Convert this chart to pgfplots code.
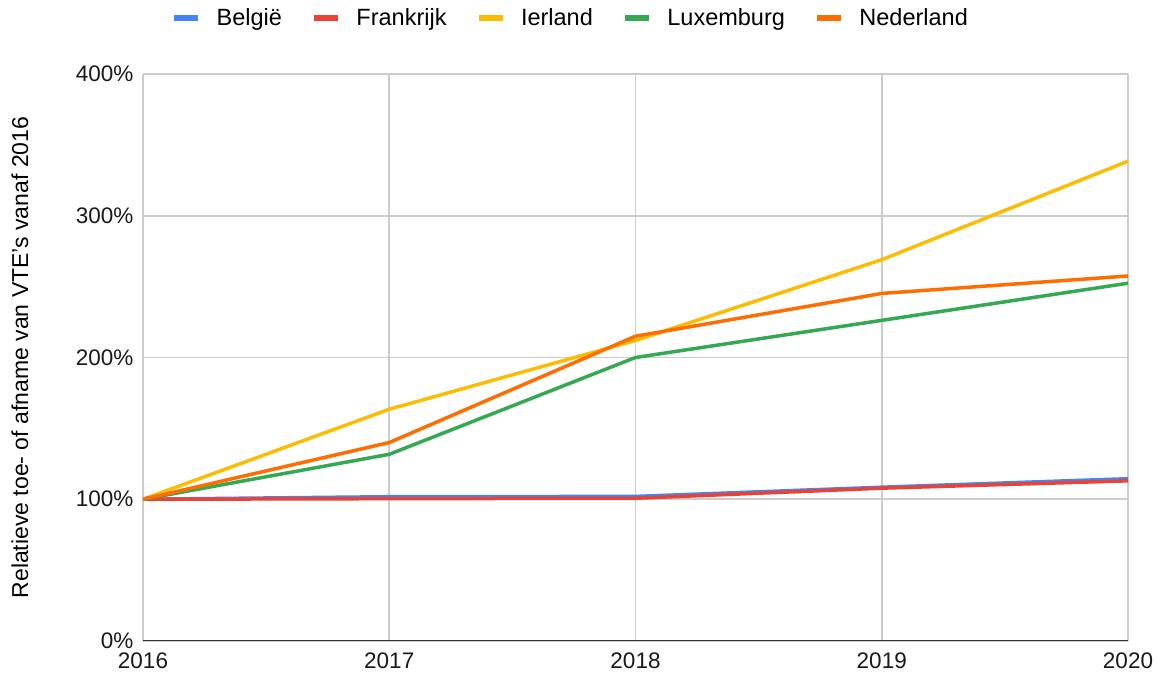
\documentclass[border=0pt]{standalone}
\usepackage{fontspec}
\setmainfont{Liberation Sans}
\usepackage{pgfplots}
\pgfplotsset{compat=1.18}
\definecolor{cBE}{HTML}{4285F4}
\definecolor{cFR}{HTML}{EA4335}
\definecolor{cIE}{HTML}{FBBC04}
\definecolor{cLU}{HTML}{34A853}
\definecolor{cNL}{HTML}{FF6D01}
\definecolor{gridc}{HTML}{CCCCCC}
\definecolor{axc}{HTML}{333333}
\begin{document}
\begin{tikzpicture}
\path[use as bounding box] (0pt,0pt) rectangle (1164pt,682pt);
\begin{axis}[
  at={(143pt,41pt)}, anchor=south west,
  scale only axis, width=985pt, height=567pt,
  xmin=2016, xmax=2020, ymin=0, ymax=400,
  xtick={2016,2017,2018,2019,2020},
  ytick={0,100,200,300,400},
  yticklabels={0\%,100\%,200\%,300\%,400\%},
  xticklabel style={/pgf/number format/1000 sep={}},
  /pgf/number format/assume math mode=true,
  tick label style={font=\fontsize{22.5}{26}\selectfont, text=black!90},
  xticklabel style={yshift=-8pt},
  yticklabel style={xshift=-6pt},
  major tick length=0pt,
  grid=major,
  major grid style={gridc, line width=1.8pt},
  axis line style={draw=none},
  ylabel={Relatieve toe- of afname van VTE's vanaf 2016},
  ylabel style={font=\fontsize{23}{26}\selectfont, at={(axis description cs:-0.125,0.5)}, anchor=center},
  legend columns=5,
  legend cell align=left,
  legend image code/.code={\draw[#1, line width=6.5pt] (0pt,0pt) -- (24pt,0pt);},
  legend style={draw=none, fill=none, font=\fontsize{23.5}{27}\selectfont,
    nodes={inner sep=0pt},
    at={(axis description cs:0.433,1.099)}, anchor=center,
    /tikz/every odd column/.style={column sep=15pt},
    /tikz/every even column/.style={column sep=29pt}},
  every axis plot/.append style={line width=3.5pt, line join=round},
]
\addplot[cBE] coordinates {(2016,100) (2017,101.8) (2018,102) (2019,108.5) (2020,114.5)};
\addlegendentry{België}
\addplot[cFR] coordinates {(2016,100) (2017,100.4) (2018,100.7) (2019,107.8) (2020,113)};
\addlegendentry{Frankrijk}
\addplot[cIE] coordinates {(2016,100) (2017,163.5) (2018,212) (2019,269) (2020,338.5)};
\addlegendentry{Ierland}
\addplot[cLU] coordinates {(2016,100) (2017,131.7) (2018,200) (2019,226.2) (2020,252.4)};
\addlegendentry{Luxemburg}
\addplot[cNL] coordinates {(2016,100) (2017,140) (2018,215) (2019,245.2) (2020,257.5)};
\addlegendentry{Nederland}
\draw[axc, line width=2pt] (axis cs:2016,0) -- (axis cs:2020,0);
\end{axis}
\end{tikzpicture}
\end{document}
